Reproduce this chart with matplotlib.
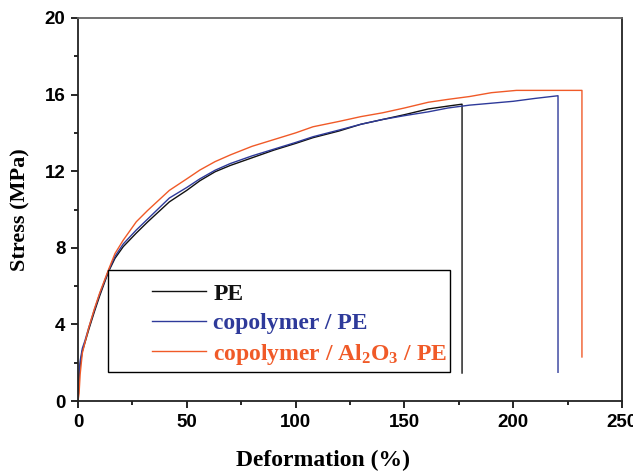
import matplotlib
matplotlib.use("Agg")
import matplotlib.pyplot as plt
from matplotlib.patches import Rectangle

plt.rcParams['mathtext.fontset'] = 'custom'
plt.rcParams['mathtext.rm'] = 'Liberation Serif:bold'
plt.rcParams['mathtext.it'] = 'Liberation Serif:bold'
plt.rcParams['mathtext.bf'] = 'Liberation Serif:bold'
plt.rcParams['mathtext.default'] = 'rm'

# PE
pe_x = [0, 0.5, 1, 2, 3.2, 5, 7.5, 10, 14, 17, 20.8, 26.8, 32, 42, 50, 56, 63, 70,
        80, 90, 100, 108, 120, 130, 140, 150, 161, 170, 176.5, 176.5]
pe_y = [0, 1.2, 1.9, 2.6, 3.05, 3.75, 4.65, 5.5, 6.75, 7.45, 8.06, 8.77, 9.35, 10.4,
        11.0, 11.5, 11.97, 12.3, 12.7, 13.1, 13.45, 13.75, 14.1, 14.45, 14.7, 14.95,
        15.25, 15.4, 15.5, 1.46]

# copolymer / PE
co_x = [0, 0.5, 1, 2, 3.2, 5, 7.5, 10, 14, 17, 20.8, 26.8, 32, 42, 50, 56, 63, 70,
        80, 90, 100, 108, 120, 130, 140, 150, 161, 170, 180, 190, 200, 210, 220.6,
        220.6]
co_y = [0, 1.4, 2.1, 2.75, 3.15, 3.85, 4.75, 5.6, 6.8, 7.55, 8.2, 8.93, 9.5, 10.6,
        11.15, 11.6, 12.05, 12.4, 12.8, 13.15, 13.5, 13.8, 14.15, 14.45, 14.7, 14.9,
        15.1, 15.3, 15.45, 15.55, 15.65, 15.8, 15.94, 1.5]

# copolymer / Al2O3 / PE
al_x = [0, 0.5, 1, 2, 3.2, 5, 7.5, 10, 14, 17, 20.8, 26.8, 32, 42, 50, 56, 63, 70,
        80, 90, 100, 108, 120, 130, 140, 150, 161, 170, 180, 190, 201.5, 231.6, 231.6]
al_y = [0, 0.4, 1.4, 2.5, 3.05, 3.85, 4.8, 5.65, 6.85, 7.7, 8.4, 9.36, 9.95, 11.0,
        11.6, 12.06, 12.5, 12.85, 13.3, 13.65, 14.0, 14.32, 14.6, 14.85, 15.05, 15.3,
        15.6, 15.75, 15.9, 16.1, 16.22, 16.22, 2.3]

labels = ['PE', 'copolymer / PE', r'copolymer / Al$_2$O$_3$ / PE']
colors = ['#111111', '#2e3a9a', '#f05a28']

fig = plt.figure(figsize=(6.33, 4.71), dpi=100)
ax = fig.add_axes([0.1232, 0.1486, 0.8594, 0.8132])

for xs, ys, lab, c in zip([pe_x, co_x, al_x], [pe_y, co_y, al_y], labels, colors):
    ax.plot(xs, ys, color=c, lw=1.0, label=lab)

ax.set_xlim(0, 250)
ax.set_ylim(0, 20)
ax.set_xticks([0, 50, 100, 150, 200, 250])
ax.set_xticks([25, 75, 125, 175, 225], minor=True)
ax.set_yticks([0, 4, 8, 12, 16, 20])
ax.set_yticks([2, 6, 10, 14, 18], minor=True)

ax.tick_params(which='both', direction='out', top=False, right=False, width=1.2)
ax.tick_params(which='major', length=5, pad=4)
ax.tick_params(which='minor', length=3)
for lbl in ax.get_xticklabels() + ax.get_yticklabels():
    lbl.set_family('Liberation Sans')
    lbl.set_weight('bold')
    lbl.set_fontsize(13.5)

for s in ['left', 'bottom', 'right']:
    ax.spines[s].set_linewidth(1.3)
    ax.spines[s].set_color('#222222')
ax.spines['top'].set_linewidth(1.3)
ax.spines['top'].set_color('#666666')

ax.set_xlabel('Deformation (%)', family='Liberation Serif', weight='bold',
              fontsize=17)
ax.xaxis.set_label_coords(0.45, -0.128)
ax.set_ylabel('Stress (MPa)', family='Liberation Serif', weight='bold',
              fontsize=16, labelpad=10)

# legend frame drawn as a box, entries placed inside it
ax.add_patch(Rectangle((0.0551, 0.0757), 0.629, 0.266, transform=ax.transAxes,
                       facecolor='white', edgecolor='black', lw=1.0, zorder=3))
leg = ax.legend(loc='upper left', bbox_to_anchor=(0.136, 0.308), frameon=False,
                borderpad=0, borderaxespad=0, handlelength=2.3, handletextpad=0.3,
                labelspacing=0.33,
                prop={'family': 'Liberation Serif', 'weight': 'bold', 'size': 17})
leg.set_zorder(4)
for t, c in zip(leg.get_texts(), colors):
    t.set_color(c)

fig.savefig('out.png', dpi=100)
